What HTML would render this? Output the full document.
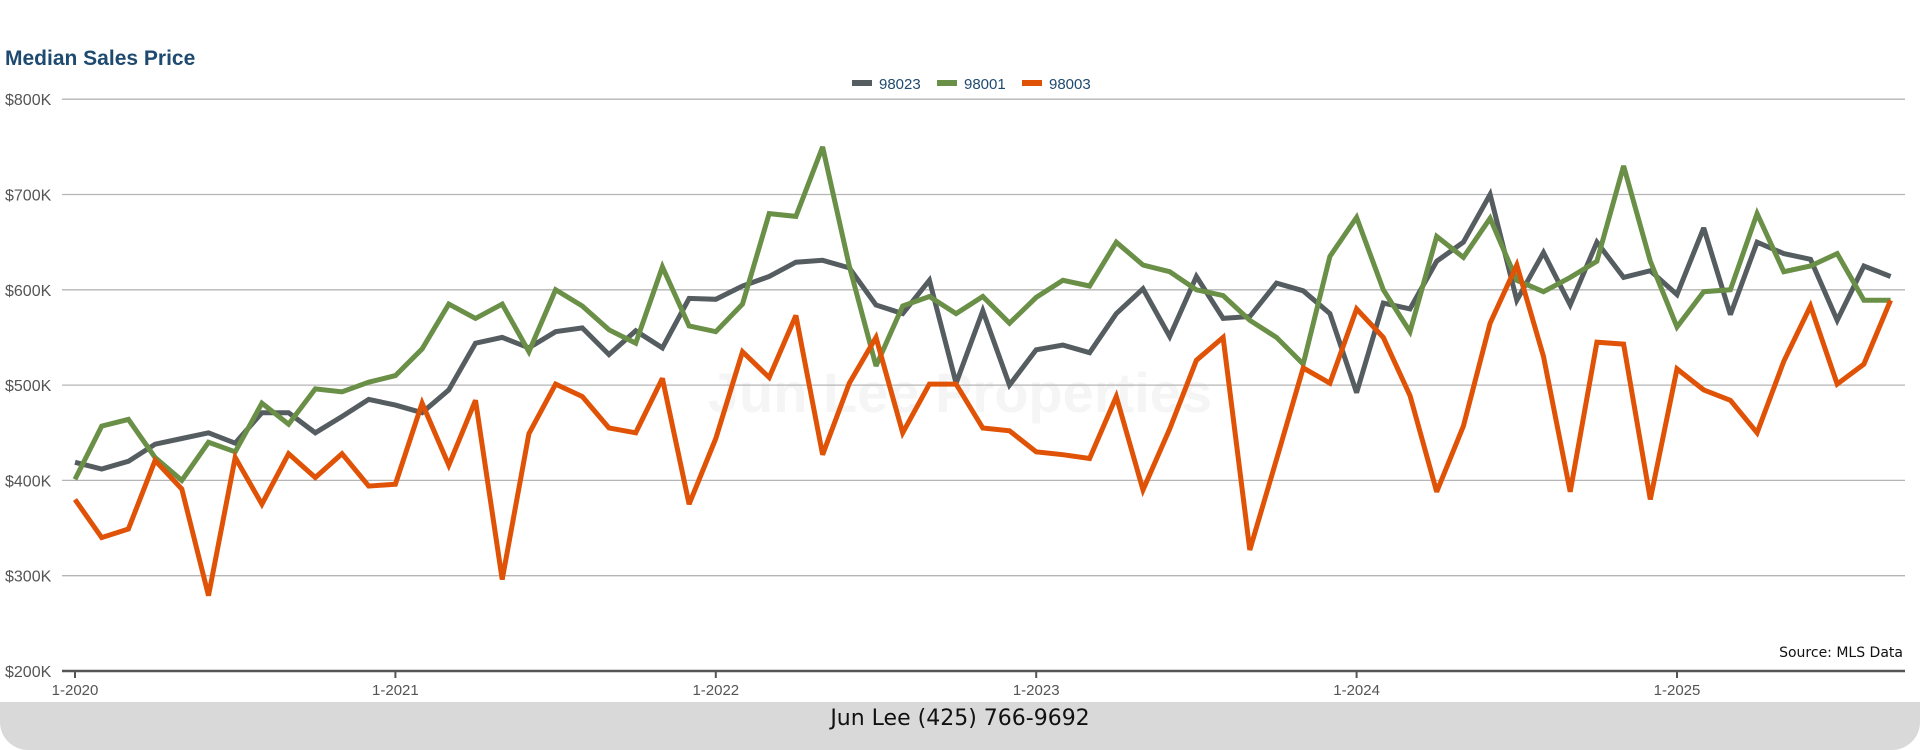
<!DOCTYPE html>
<html><head><meta charset="utf-8">
<style>
html,body{margin:0;padding:0;background:#fff;width:1920px;height:750px;overflow:hidden;font-family:"Liberation Sans",sans-serif;}
#footer{position:absolute;left:0;top:702px;width:1920px;height:48px;background:#d9d9d9;border-radius:0 0 28px 28px;text-align:center;font-family:"DejaVu Sans","Liberation Sans",sans-serif;font-size:22px;line-height:34px;color:#111;}
</style></head>
<body>
<svg id="chart" width="1920" height="750" style="position:absolute;left:0;top:0">
  <text x="5" y="65" font-family="Liberation Sans, sans-serif" font-weight="bold" font-size="21" fill="#1f4a70">Median Sales Price</text>
  <text x="960" y="412" text-anchor="middle" font-family="Liberation Sans, sans-serif" font-weight="bold" font-size="56" fill="#f5f5f5">Jun Lee Properties</text>
  <g id="grid"></g>
  <g id="xaxis"></g>
  <g id="lines"></g>
  <g id="legend"></g>
  <text x="1903" y="657" text-anchor="end" font-family="DejaVu Sans, sans-serif" font-size="14" fill="#111">Source: MLS Data</text>
</svg>
<div id="footer">Jun Lee (425) 766-9692</div>
<script>
const yTicks=[200,300,400,500,600,700,800];
const xTickLabels=["1-2020","1-2021","1-2022","1-2023","1-2024","1-2025"];
const seriesNames=["98023","98001","98003"];
const s98023=[419,412,420,438,444,450,439,471,471,450,467,485,479,471,495,544,550,539,556,560,532,557,539,591,
590,604,614,629,631,623,584,575,610,502,578,500,537,542,534,575,601,551,614,570,572,607,599,575,
492,586,580,630,650,700,589,639,584,650,613,620,595,665,574,650,638,632,568,625,614];
const s98001=[401,457,464,424,400,440,430,481,459,496,493,503,510,538,585,570,585,535,600,583,558,544,624,562,
556,585,680,677,750,625,520,583,593,575,593,565,592,610,604,650,626,619,600,594,568,550,522,635,
676,600,556,656,634,675,610,598,613,630,730,630,561,598,600,680,619,625,638,589,589];
const s98003=[380,340,349,421,391,279,424,375,428,403,428,394,396,481,416,484,296,449,501,488,455,450,507,375,
444,535,508,573,427,502,550,450,501,501,455,452,430,427,423,488,390,454,526,550,327,422,518,502,
580,550,489,388,457,565,626,530,388,545,543,380,517,495,484,450,525,583,501,522,589];
const colors=["#555d61","#6a8f47","#e05206"];
const NS="http://www.w3.org/2000/svg";
const X0=75, XM=26.7, Y0=671, YPER=0.953; // px per $1K
const xs=i=>X0+XM*i;
const ys=v=>Y0-(v-200)*YPER;
function mk(tag,attrs,parent){const e=document.createElementNS(NS,tag);for(const k in attrs)e.setAttribute(k,attrs[k]);parent.appendChild(e);return e;}
const grid=document.getElementById('grid');
yTicks.forEach(t=>{
  if(t>200){const l=mk('line',{x1:62,x2:1905,y1:ys(t),y2:ys(t),stroke:'#b5b5b5','stroke-width':1.3},grid);
  
  }
  const tx=mk('text',{x:5,y:ys(t)+6,'font-size':16,fill:'#555','font-family':'Liberation Sans, sans-serif'},grid);
  tx.textContent='$'+t+'K';
  
  
});
const xa=document.getElementById('xaxis');
const ax=mk('line',{x1:62,x2:1905,y1:Y0,y2:Y0,stroke:'#555','stroke-width':2.5},xa);


xTickLabels.forEach((lab,k)=>{
  const x=xs(k*12);
  const tk=mk('line',{x1:x,x2:x,y1:Y0,y2:Y0+7,stroke:'#555','stroke-width':2},xa);
  
  
  const t=mk('text',{x:x,y:Y0+24,'text-anchor':'middle','font-size':15,fill:'#555','font-family':'Liberation Sans, sans-serif'},xa);
  t.textContent=lab;
  
  
});
const lines=document.getElementById('lines');
[s98023,s98001,s98003].forEach((s,si)=>{
  const p=mk('polyline',{points:s.map((v,i)=>xs(i).toFixed(1)+','+ys(v).toFixed(1)).join(' '),fill:'none',stroke:colors[si],'stroke-width':5,'stroke-linejoin':'miter','stroke-miterlimit':3},lines);
  
  
});
const lg=document.getElementById('legend');
const lx=[852,937,1022];
seriesNames.forEach((n,i)=>{
  const r=mk('rect',{x:lx[i],y:80,width:20,height:6,fill:colors[i]},lg);
  
  
  const t=mk('text',{x:lx[i]+27,y:89,'font-size':15,fill:'#1f4a70','font-family':'Liberation Sans, sans-serif'},lg);
  t.textContent=n;
  
  
});
</script>
</body></html>
